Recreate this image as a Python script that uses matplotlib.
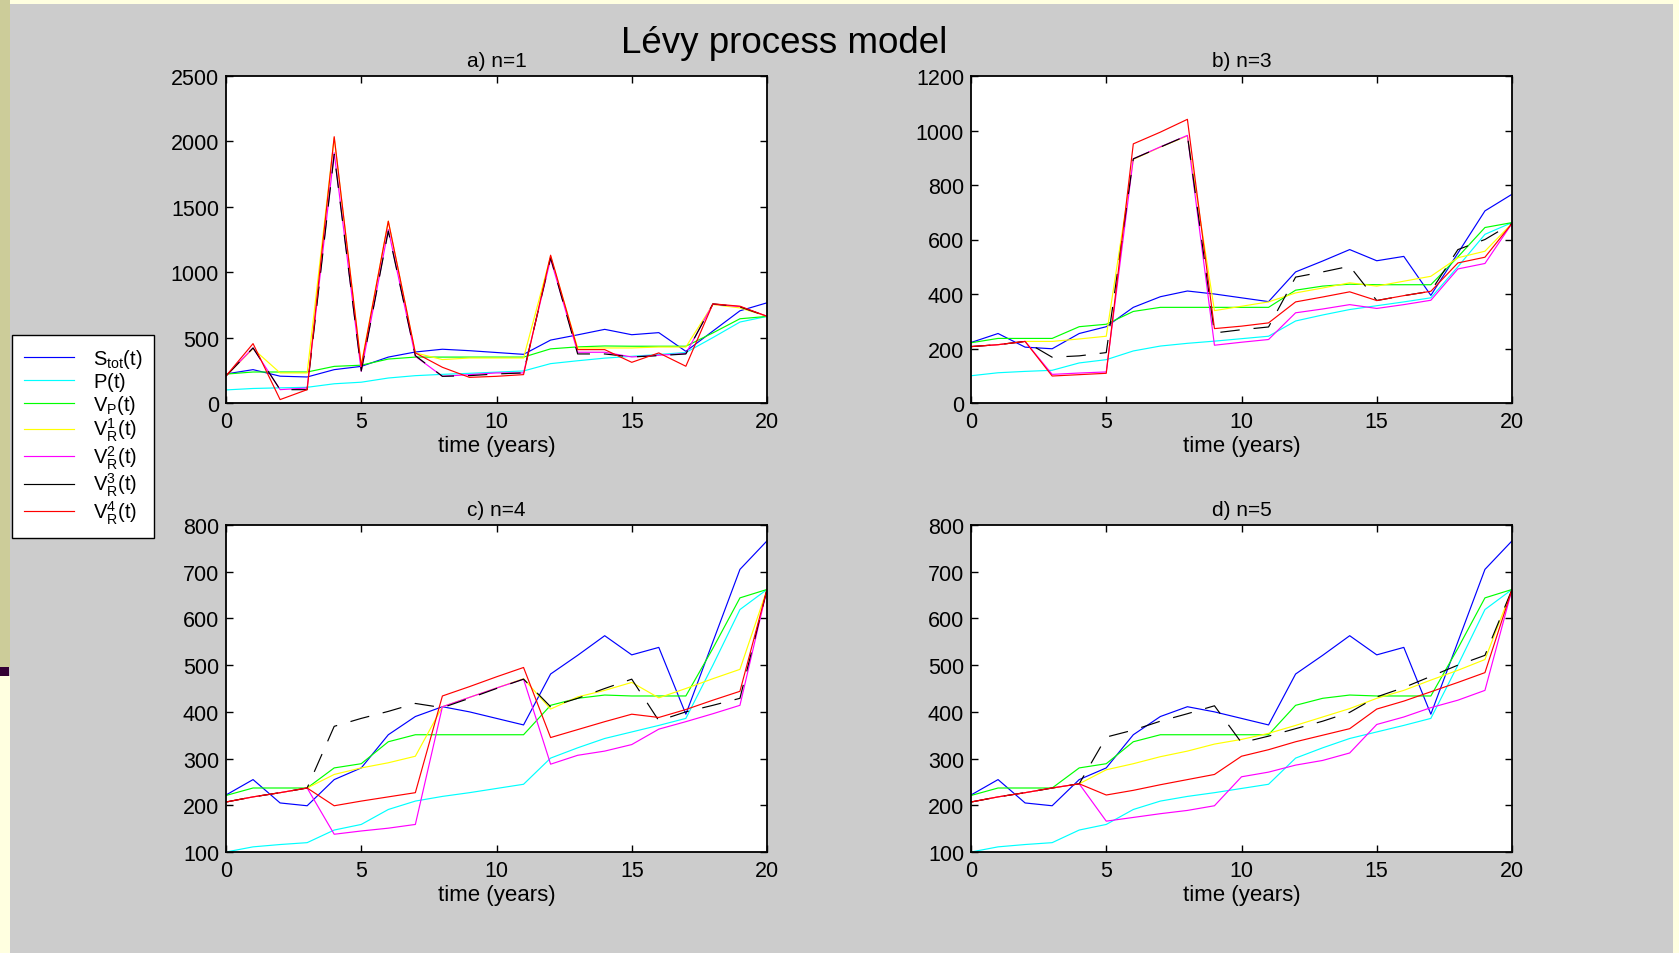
import matplotlib
matplotlib.use("Agg")
import matplotlib.pyplot as plt
from matplotlib.lines import Line2D
from matplotlib.patches import Rectangle

plt.rcParams['font.family'] = ['Liberation Sans', 'DejaVu Sans']
plt.rcParams['mathtext.default'] = 'regular'
plt.rcParams['lines.scale_dashes'] = False

# time axis (years)
years = list(range(21))

# series shared by every panel
s_tot = [222, 255, 205, 199, 255, 280, 351, 390, 411, 400, 386, 372, 481, 521, 563, 522, 538, 395, 550, 705, 766]
p_t = [100, 111, 116, 120, 147, 159, 191, 209, 219, 227, 236, 245, 301, 323, 343, 357, 371, 386, 500, 619, 662]
v_p = [221, 237, 237, 237, 280, 289, 336, 351, 351, 351, 351, 351, 414, 429, 436, 434, 434, 434, 536, 644, 662]

# a) n=1
vr1_a = [207, 415, 230, 230, 2028, 293, 1390, 383, 332, 344, 344, 344, 1122, 421, 421, 421, 428, 428, 753, 727, 663]
vr2_a = [207, 421, 102, 115, 1913, 242, 1326, 357, 204, 217, 230, 230, 1102, 388, 388, 352, 365, 378, 755, 737, 663]
vr3_a = [207, 421, 102, 102, 1900, 245, 1314, 362, 204, 209, 222, 230, 1110, 375, 375, 352, 362, 375, 758, 735, 663]
vr4_a = [207, 454, 26, 102, 2036, 280, 1390, 383, 273, 196, 204, 217, 1130, 408, 408, 311, 383, 281, 758, 740, 663]

# b) n=3
vr1_b = [207, 214, 226, 226, 235, 245, 894, 939, 980, 339, 355, 371, 404, 422, 441, 429, 447, 465, 533, 557, 659]
vr2_b = [207, 214, 226, 105, 110, 114, 896, 940, 982, 212, 223, 233, 331, 345, 361, 347, 361, 377, 492, 512, 659]
vr3_b = [207, 214, 226, 168, 173, 185, 896, 939, 982, 257, 269, 279, 462, 481, 502, 376, 394, 410, 563, 600, 659]
vr4_b = [207, 214, 226, 99, 104, 109, 951, 994, 1041, 273, 282, 294, 371, 389, 408, 376, 394, 410, 514, 535, 659]

# c) n=4
vr1_c = [207, 218, 227, 237, 266, 280, 291, 305, 411, 431, 451, 471, 406, 432, 446, 463, 430, 450, 471, 491, 662]
vr2_c = [207, 218, 227, 237, 138, 145, 151, 159, 411, 431, 451, 470, 288, 307, 316, 330, 363, 379, 396, 414, 662]
vr3_c = [207, 218, 227, 237, 369, 386, 401, 418, 409, 429, 450, 470, 411, 429, 450, 470, 381, 400, 414, 429, 662]
vr4_c = [207, 218, 227, 237, 199, 209, 218, 227, 434, 454, 475, 495, 345, 362, 379, 395, 388, 405, 425, 444, 662]

# d) n=5
vr1_d = [207, 218, 227, 237, 246, 276, 289, 304, 316, 331, 341, 354, 371, 389, 407, 429, 446, 468, 489, 512, 662]
vr2_d = [207, 218, 227, 237, 246, 166, 174, 182, 189, 199, 261, 271, 286, 296, 312, 373, 389, 409, 425, 446, 662]
vr3_d = [207, 218, 227, 237, 246, 346, 361, 380, 396, 413, 334, 348, 364, 380, 399, 432, 452, 476, 500, 521, 662]
vr4_d = [207, 218, 227, 237, 246, 222, 232, 244, 255, 266, 305, 319, 336, 350, 364, 406, 423, 443, 463, 484, 662]

titles = ['a) n=1', 'b) n=3', 'c) n=4', 'd) n=5']
panels = [
    (vr1_a, vr2_a, vr3_a, vr4_a),
    (vr1_b, vr2_b, vr3_b, vr4_b),
    (vr1_c, vr2_c, vr3_c, vr4_c),
    (vr1_d, vr2_d, vr3_d, vr4_d),
]
ylims = [(0, 2500), (0, 1200), (100, 800), (100, 800)]
ysteps = [500, 200, 100, 100]

labels = [r'$S_{tot}(t)$', r'$P(t)$', r'$V_P(t)$', r'$V_R^1(t)$',
          r'$V_R^2(t)$', r'$V_R^3(t)$', r'$V_R^4(t)$']
colors = ['#0000ff', '#00ffff', '#00ff00', '#ffff00', '#ff00ff', '#000000', '#ff0000']

W, H = 1679, 954
fig = plt.figure(figsize=(W / 100, H / 100), dpi=100, facecolor='#cccccc')

# slide border strips
fig.add_artist(Rectangle((0, 1 - 5 / H), 1, 5 / H, transform=fig.transFigure, color='#ffffe0', lw=0))
fig.add_artist(Rectangle((1673 / W, 0), 6 / W, 1, transform=fig.transFigure, color='#ffffe0', lw=0))
fig.add_artist(Rectangle((0, 1 - 668 / H), 10 / W, 668 / H, transform=fig.transFigure, color='#cccc99', lw=0))
fig.add_artist(Rectangle((0, 1 - 677 / H), 9 / W, 9 / H, transform=fig.transFigure, color='#330033', lw=0))
fig.add_artist(Rectangle((0, 0), 10 / W, 1 - 677 / H, transform=fig.transFigure, color='#ffffe0', lw=0))

lefts = [226, 971, 226, 971]
bottoms = [404, 404, 853, 853]
lw = 0.85

for i in range(4):
    ax = fig.add_axes([lefts[i] / W, 1 - bottoms[i] / H, 541 / W, 327 / H])
    ax.set_facecolor('white')
    vr1, vr2, vr3, vr4 = panels[i]
    ax.plot(years, s_tot, color=colors[0], lw=lw)
    ax.plot(years, p_t, color=colors[1], lw=lw)
    ax.plot(years, v_p, color=colors[2], lw=lw)
    ax.plot(years, vr1, color=colors[3], lw=lw)
    ax.plot(years, vr2, color=colors[4], lw=lw)
    ax.plot(years, vr3, color=colors[5], lw=lw, linestyle=(0, (14, 10)))
    ax.plot(years, vr4, color=colors[6], lw=lw)
    ax.set_xlim(0, 20)
    ax.set_ylim(*ylims[i])
    ax.set_xticks([0, 5, 10, 15, 20])
    ax.set_yticks(range(ylims[i][0], ylims[i][1] + 1, ysteps[i]))
    ax.tick_params(direction='in', length=5, width=1, top=True, right=True,
                   labelsize=15.5, colors='black')
    ax.tick_params(axis='x', pad=6)
    ax.tick_params(axis='y', pad=5)
    for sp in ax.spines.values():
        sp.set_linewidth(1.3)
    ax.set_title(titles[i], fontsize=15, pad=7)
    ax.set_xlabel('time (years)', fontsize=16, labelpad=2)

fig.text(784 / W, 1 - 53 / H, 'Lévy process model', fontsize=26.5, ha='center', va='baseline')

handles = [Line2D([], [], color=c, lw=lw) for c in colors]
leg = fig.legend(handles, labels, loc='upper left', bbox_to_anchor=(12 / W, 1 - 336 / H),
                 borderaxespad=0, fontsize=14.5, frameon=True, fancybox=False,
                 edgecolor='black', facecolor='white', framealpha=1,
                 handlelength=2.5, handletextpad=0.9, labelspacing=0.0, borderpad=0.6)
leg.get_frame().set_linewidth(1.0)

fig.savefig('out.png', dpi=100, facecolor=fig.get_facecolor())
